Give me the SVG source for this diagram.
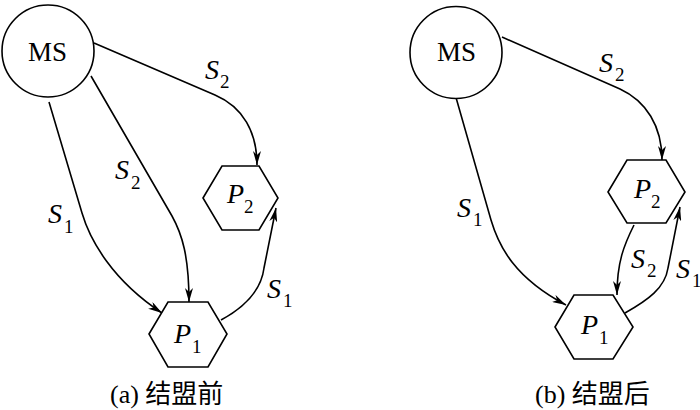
<svg xmlns="http://www.w3.org/2000/svg" width="700" height="410" viewBox="0 0 700 410">
<style>
.node{fill:#fff;stroke:#000;stroke-width:1.6}
.edge{fill:none;stroke:#000;stroke-width:1.6;marker-end:url(#arr)}
</style>
<defs>
<marker id="arr" markerUnits="userSpaceOnUse" markerWidth="15" markerHeight="8" refX="14" refY="4" orient="auto">
<path d="M0,0 L14,4 L0,8 L4,4 Z" fill="#000"/>
</marker>
</defs>
<rect width="700" height="410" fill="#fff"/>
<g id="connectors">
<path class="edge" d="M94,43 L215,95 C243,107 257,132 257,165"/>
<path class="edge" d="M91,76 L172,216 C182,234 189,256 189,302"/>
<path class="edge" d="M49,102 L82,213 C90,240 112,280 162,313"/>
<path class="edge" d="M221,320 C243,308 261,292 264,268 L276,208"/>
<path class="edge" d="M502,37 L620,89 C646,101 662,126 662,160"/>
<path class="edge" d="M455,94 L491,220 C499,247 515,278 566,305"/>
<path class="edge" d="M634,225 C624,245 617,262 617,295"/>
<path class="edge" d="M625,313 C648,300 665,288 668,268 L680,207"/>
</g>
<g id="edge-labels">
<text x="205" y="79" font-family="Liberation Serif, serif" font-style="italic" font-size="28">S</text><text x="220" y="88" font-family="Liberation Serif, serif" font-size="19">2</text>
<text x="115" y="179" font-family="Liberation Serif, serif" font-style="italic" font-size="28">S</text><text x="131" y="189" font-family="Liberation Serif, serif" font-size="19">2</text>
<text x="48" y="223" font-family="Liberation Serif, serif" font-style="italic" font-size="28">S</text><text x="64" y="233" font-family="Liberation Serif, serif" font-size="19">1</text>
<text x="267" y="298" font-family="Liberation Serif, serif" font-style="italic" font-size="28">S</text><text x="283" y="307" font-family="Liberation Serif, serif" font-size="19">1</text>
<text x="599" y="72" font-family="Liberation Serif, serif" font-style="italic" font-size="28">S</text><text x="615" y="81" font-family="Liberation Serif, serif" font-size="19">2</text>
<text x="457" y="217" font-family="Liberation Serif, serif" font-style="italic" font-size="28">S</text><text x="473" y="226" font-family="Liberation Serif, serif" font-size="19">1</text>
<text x="631" y="268" font-family="Liberation Serif, serif" font-style="italic" font-size="28">S</text><text x="647" y="277" font-family="Liberation Serif, serif" font-size="19">2</text>
<text x="676" y="278" font-family="Liberation Serif, serif" font-style="italic" font-size="28">S</text><text x="692" y="287" font-family="Liberation Serif, serif" font-size="19">1</text>
</g>
<g id="a-MS">
<circle class="node" cx="48" cy="51" r="46"/>
<text x="47.5" y="61" text-anchor="middle" font-family="Liberation Serif, serif" font-size="27">MS</text>
</g>
<g id="a-P2">
<polygon class="node" points="203,198 222,166 259,166 278,198 259,230 222,230"/>
<text x="227" y="203" font-family="Liberation Serif, serif" font-style="italic" font-size="28">P</text><text x="244" y="213" font-family="Liberation Serif, serif" font-size="19">2</text>
</g>
<g id="a-P1">
<polygon class="node" points="149,334 168,302 208,302 227,334 208,367 168,367"/>
<text x="174" y="343" font-family="Liberation Serif, serif" font-style="italic" font-size="28">P</text><text x="192" y="353" font-family="Liberation Serif, serif" font-size="19">1</text>
</g>
<g id="b-MS">
<circle class="node" cx="456" cy="52.5" r="46"/>
<text x="456.5" y="61" text-anchor="middle" font-family="Liberation Serif, serif" font-size="27">MS</text>
</g>
<g id="b-P2">
<polygon class="node" points="608,192 627,160 666,160 685,192 666,223 627,223"/>
<text x="634" y="198" font-family="Liberation Serif, serif" font-style="italic" font-size="28">P</text><text x="651" y="208" font-family="Liberation Serif, serif" font-size="19">2</text>
</g>
<g id="b-P1">
<polygon class="node" points="555,327 574,295 613,295 633,327 613,359 574,359"/>
<text x="581" y="334" font-family="Liberation Serif, serif" font-style="italic" font-size="28">P</text><text x="599" y="344" font-family="Liberation Serif, serif" font-size="19">1</text>
</g>
<g id="captions">
<text x="110" y="403" font-family="Liberation Serif, Noto Sans CJK SC, serif" font-size="26">(a) 结盟前</text>
<text x="535" y="403" font-family="Liberation Serif, Noto Sans CJK SC, serif" font-size="26">(b) 结盟后</text>
</g>
</svg>
